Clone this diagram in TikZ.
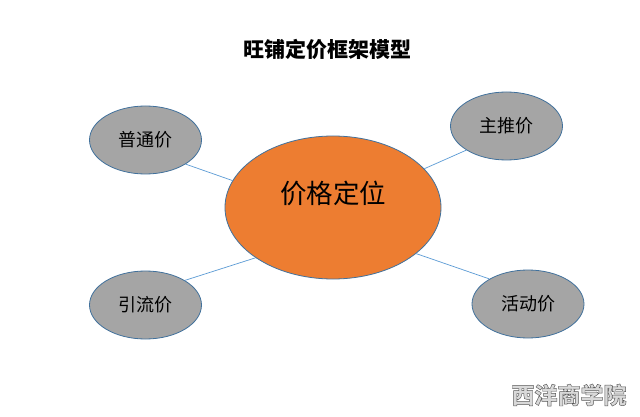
\documentclass[tikz,border=0pt]{standalone}
\usepackage{fontspec}
\setmainfont{Noto Sans CJK SC}
\usetikzlibrary{shapes.geometric}
\definecolor{orangeF}{HTML}{ED7D31}
\definecolor{grayF}{HTML}{A5A5A5}
\definecolor{edgeC}{HTML}{41719C}
\definecolor{lineC}{HTML}{5B9BD5}
\tikzset{
  bubble/.style={ellipse, draw=edgeC, line width=0.8pt, fill=grayF, inner sep=0pt,
    minimum width=112pt, minimum height=68pt, font=\fontsize{18}{20}\selectfont, text=black},
  hub/.style={ellipse, draw=edgeC, line width=0.8pt, fill=orangeF, inner sep=0pt,
    minimum width=216pt, minimum height=143pt, font=\fontsize{26.5}{30}\selectfont,
    text height=24pt, text depth=32.4pt},
  link/.style={draw=lineC, line width=0.7pt}
}
\begin{document}
\begin{tikzpicture}[x=1pt,y=-1pt]
\useasboundingbox (0,0) rectangle (640,417);
\fill[white] (0,0) rectangle (640,417);
\node (title) at (327.5,49) {\fontsize{21}{24}\selectfont\bfseries 旺铺定价框架模型};
\node[hub] (hub) at (333,207.5) {价格定位};
\node[bubble] (pt) at (145.5,140) {普通价};
\node[bubble] (zt) at (506.5,126) {主推价};
\node[bubble] (yl) at (145.5,305) {引流价};
\node[bubble] (hd) at (528,304) {活动价};
\draw[link] (pt.-31) -- (hub.165);
\draw[link] (zt.211) -- (hub.23);
\draw[link] (yl.32) -- (hub.213);
\draw[link] (hd.147) -- (hub.-29);
\node[text=gray!30, font=\fontsize{23}{26}\selectfont\bfseries] (wm) at (569,395)
  {\special{pdf:literal 2 Tr 0.45 w 0.35 G}西洋商学院};
\end{tikzpicture}
\end{document}
